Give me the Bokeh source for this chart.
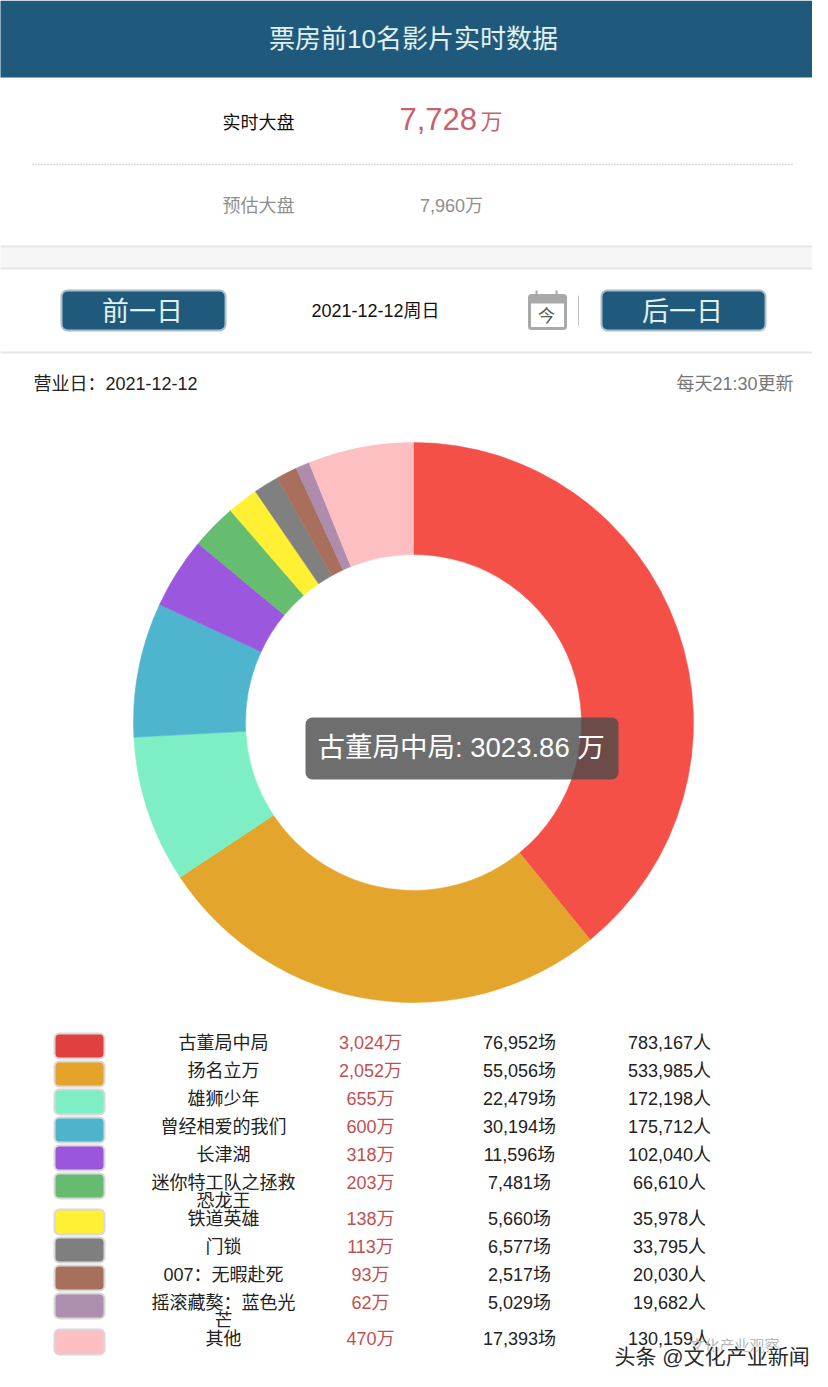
import math
from bokeh.plotting import figure
from bokeh.embed import file_html
from bokeh.resources import INLINE
from bokeh.core.properties import value

films = ["古董局中局", "扬名立万", "雄狮少年", "曾经相爱的我们", "长津湖", "迷你特工队之拯救\n恐龙王",
         "铁道英雄", "门锁", "007：无暇赴死", "摇滚藏獒：蓝色光\n芒", "其他"]
gross = [3024, 2052, 655, 600, 318, 203, 138, 113, 93, 62, 470]
shows = [76952, 55056, 22479, 30194, 11596, 7481, 5660, 6577, 2517, 5029, 17393]
people = [783167, 533985, 172198, 175712, 102040, 66610, 35978, 33795, 20030, 19682, 130159]
slice_colors = ["#f55048", "#e3a52c", "#7eefc4", "#4fb5cf", "#9b58de", "#66bd70",
                "#fff033", "#808080", "#a8705c", "#ae8cae", "#fdbfc2"]
swatch_colors = ["#e0403e", "#e5a32c", "#7eefc4", "#4fb3cc", "#9b56dd", "#66bb6e",
                 "#fff033", "#7f7f7f", "#a6705c", "#ae8ead", "#fdbfc2"]
tooltip = "古董局中局: 3023.86 万"

W, H = 814, 1387
FONT = value("Liberation Sans, Noto Sans CJK SC")
def Y(py):
    return H - py

p = figure(width=812, height=1371, x_range=(1, 813), y_range=(16, 1387),
           output_backend="svg", toolbar_location=None, min_border=0,
           outline_line_color=None, background_fill_color="white", border_fill_color="white")
p.xaxis.visible = False
p.yaxis.visible = False
p.grid.visible = False

def txt(x, py, s, size, color, align="center", font=FONT):
    p.text([x], [Y(py)], text=[s], text_font=font, text_font_size=f"{size}px", text_color=color,
           text_align=align, text_baseline="middle")

def box(l, r, t, b, fill, line=None, radius=0, lw=1):
    p.quad(left=[l], right=[r], top=[Y(t)], bottom=[Y(b)], fill_color=fill,
           line_color=line, line_width=lw, border_radius=radius)

# header
box(0, W, 0, 77, "#1f5a7d")
txt(414, 38, "票房前10名影片实时数据", 26, "#e2f0ee")

# summary
total = sum(gross)
txt(259, 122, "实时大盘", 18, "#111111")
txt(400, 118, f"{total:,}", 31, "#c9606e", "left")
txt(481, 121, "万", 22, "#c9606e", "left")
p.line([33, 795], [Y(164), Y(164)], line_color="#b5b5b5", line_width=1.5, line_dash="1 2")
txt(259, 205, "预估大盘", 18, "#8f8f8f")
txt(452, 205, "7,960万", 18, "#8f8f8f")

# band
box(0, W, 246, 268, "#f6f6f6")
for py in (246, 268, 352):
    p.line([0, W], [Y(py), Y(py)], line_color="#e6e6e6", line_width=2)

# buttons
box(62, 226, 290, 330, "#1f5a7d", "#a8bdc9", 6, 2)
box(602, 766, 290, 330, "#1f5a7d", "#a8bdc9", 6, 2)
txt(143, 311, "前一日", 27, "#e2f0ee")
txt(683, 311, "后一日", 27, "#e2f0ee")
txt(376, 310, "2021-12-12周日", 18, "#111111")
# calendar icon
box(530, 566, 295, 328, "#ffffff", "#a9a9a9", 2, 3)
box(530, 566, 295, 303, "#a9a9a9")
p.segment([537, 557], [Y(290), Y(290)], [537, 557], [Y(298), Y(298)], line_color="#a9a9a9", line_width=2)
txt(547, 316, "今", 17, "#555555")
p.line([579, 579], [Y(295), Y(325)], line_color="#c4c4c4", line_width=1)

txt(34, 383, "营业日：2021-12-12", 18, "#222222", "left")
txt(794, 383, "每天21:30更新", 18, "#777777", "right")

# donut
cum = [0]
for g in gross:
    cum.append(cum[-1] + g)
start = [math.pi / 2 - 2 * math.pi * c / total for c in cum[:-1]]
end = [math.pi / 2 - 2 * math.pi * c / total for c in cum[1:]]
p.annular_wedge(x=[414] * len(gross), y=[Y(722)] * len(gross), inner_radius=168, outer_radius=280,
                start_angle=start, end_angle=end, direction="clock",
                fill_color=slice_colors, line_color=slice_colors, line_width=0.5)

# tooltip
p.quad(left=[306], right=[619], top=[Y(717)], bottom=[Y(779)], fill_color="#4a4a4a", fill_alpha=0.8,
       line_color=None, border_radius=7)
txt(318, 747, tooltip, 27.5, "#ffffff", "left")

# table
py = 1042
for i, name in enumerate(films):
    box(55, 105, py - 9, py + 16, swatch_colors[i], "#d8d8d8", 5, 2)
    parts = name.split("\n")
    txt(224, py, parts[0], 18, "#222222")
    txt(371, py, f"{gross[i]:,}万", 18, "#c0504f")
    txt(520, py, f"{shows[i]:,}场", 18, "#222222")
    txt(670, py, f"{people[i]:,}人", 18, "#222222")
    if len(parts) > 1:
        txt(224, py + 18, parts[1], 18, "#222222")
    py += 36 if len(parts) > 1 else 28

# watermark
txt(690, 1345, "文化产业观察", 15, "#b8b8b8", "left")
for dx, dy in ((-1, 0), (1, 0), (0, -1), (0, 1)):
    txt(615 + dx, 1356 + dy, "头条 @文化产业新闻", 21, "#ffffff", "left")
txt(615, 1356, "头条 @文化产业新闻", 21, "#2a2a2a", "left")

open("out.html", "w").write(file_html(p, INLINE))
